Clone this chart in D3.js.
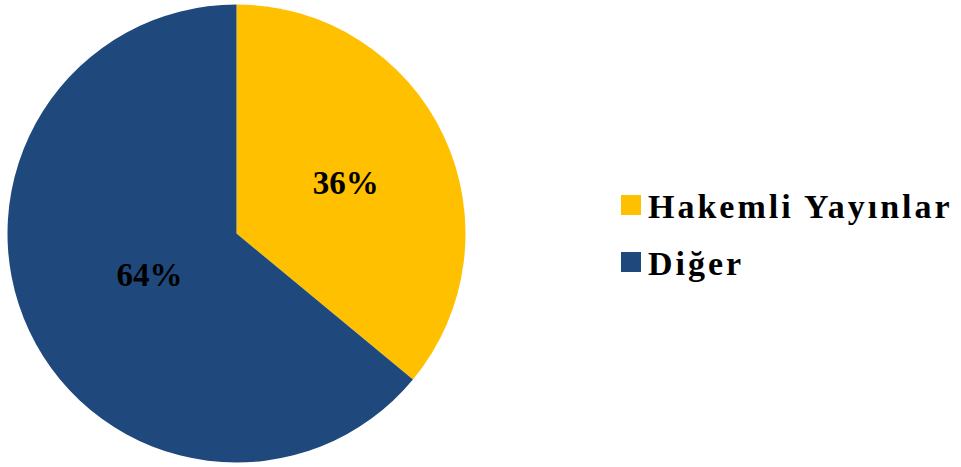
<!DOCTYPE html>
<html>
<head>
<meta charset="utf-8">
<script src="https://cdn.jsdelivr.net/npm/d3@7"></script>
<style>
  html, body { margin: 0; padding: 0; background: #fff; }
  svg { display: block; }
  text { font-family: "Liberation Serif", "Times New Roman", serif; font-weight: bold; }
</style>
</head>
<body>
<div id="pie-chart"></div>
<script>
const categories = ["Hakemli Yayınlar", "Diğer"];
const shares     = [36, 64];
const colors     = ["#FFC000", "#1F497D"];

const drawPieChart = () => {

  const width  = 961;
  const height = 467;
  const cx = 236.5, cy = 233.5, radius = 229;

  const data = categories.map((c, i) => ({ category: c, value: shares[i] }));

  const svg = d3.select("#pie-chart")
    .append("svg")
    .attr("width", width)
    .attr("height", height);

  const color = d3.scaleOrdinal()
    .domain(categories)
    .range(colors);

  const pie = d3.pie()
    .sort(null)
    .value(d => d.value);

  const arc = d3.arc()
    .innerRadius(0)
    .outerRadius(radius);

  // excel-ish best fit: smaller slice label sits a bit further out
  const labelR = d => radius * (d.data.value < 50 ? 0.527 : 0.42);

  const g = svg.append("g")
    .attr("transform", `translate(${cx}, ${cy})`);

  const arcs = pie(data);

  g.selectAll("path")
    .data(arcs)
    .join("path")
      .attr("d", arc)
      .attr("fill", d => color(d.data.category));

  g.selectAll(".val")
    .data(arcs)
    .join("text")
      .attr("class", "val")
      .attr("transform", d => {
        const r = labelR(d);
        return `translate(${d3.arc().innerRadius(r).outerRadius(r).centroid(d)})`;
      })
      .attr("text-anchor", "middle")
      .attr("dy", "0.35em")
      .style("font-size", "33px")
      .attr("fill", "#000")
      .text(d => d.data.value + "%");

  // legend
  const legend = svg.append("g")
    .attr("transform", "translate(621, 195)");

  const item = legend.selectAll("g")
    .data(categories)
    .join("g")
      .attr("transform", (d, i) => `translate(0, ${i * 57})`);

  item.append("rect")
    .attr("width", 20)
    .attr("height", 20)
    .attr("fill", d => color(d));

  item.append("text")
    .attr("x", 27)
    .attr("y", 22.5)
    .style("font-size", "34px")
    .style("letter-spacing", "3px")
    .attr("fill", "#000")
    .text(d => d);
};

drawPieChart();
</script>
</body>
</html>
